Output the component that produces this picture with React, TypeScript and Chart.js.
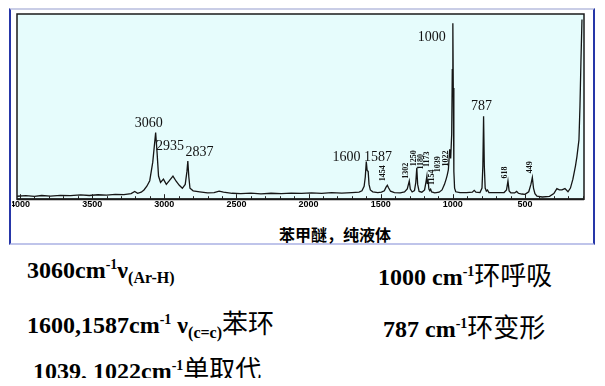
import React, { useEffect, useRef } from "react";
import { Chart, registerables } from "chart.js";

Chart.register(...registerables);

// Raman shift (cm-1)
const wavenumbers = [
  4020, 3960, 3900, 3850, 3790, 3720, 3650, 3580, 3520, 3460, 3400, 3340, 3280, 3230, 3205, 3185, 3160,
  3141, 3121, 3101, 3080, 3060, 3050, 3040, 3026, 3006, 2986, 2965, 2940, 2918, 2896, 2875, 2855, 2843,
  2837, 2830, 2822, 2800, 2755, 2700, 2655, 2620, 2590, 2530, 2470, 2400, 2330, 2260, 2190, 2120, 2050,
  1980, 1910, 1840, 1770, 1700, 1650, 1630, 1615, 1607, 1600, 1594, 1587, 1581, 1572, 1555, 1520, 1495,
  1475, 1463, 1454, 1446, 1432, 1405, 1365, 1335, 1316, 1302, 1295, 1282, 1266, 1257, 1250, 1244, 1234,
  1215, 1196, 1187, 1180, 1177, 1173, 1166, 1160, 1154, 1147, 1125, 1095, 1075, 1058, 1046, 1039, 1031,
  1022, 1015, 1008, 1004, 1000, 997, 993, 988, 980, 950, 905, 865, 852, 840, 812, 798, 792, 787, 782,
  776, 768, 760, 750, 700, 645, 628, 618, 610, 598, 572, 558, 546, 522, 500, 474, 459, 449, 441, 431,
  417, 380, 330, 300, 279, 262, 244, 223, 202, 185, 168, 150, 140, 126, 119, 112, 105,
];
// Relative intensity (0-100)
const intensities = [
  1.6, 1.9, 1.5, 2.0, 1.7, 2.1, 1.9, 2.3, 2.0, 2.4, 2.2, 2.6, 2.5, 3.0, 4.2, 3.2, 3.8,
  5.0, 7.0, 10.0, 20.0, 36.0, 25.0, 12.5, 9.0, 10.8, 8.0, 10.0, 12.5, 9.7, 7.5, 5.9, 8.0, 15.0,
  20.6, 12.0, 5.9, 4.5, 4.0, 3.4, 3.6, 4.3, 3.8, 3.2, 3.0, 3.3, 2.9, 3.2, 3.0, 3.3, 3.1,
  3.4, 3.1, 3.5, 3.3, 3.6, 3.8, 4.5, 7.0, 12.0, 20.3, 15.5, 15.0, 8.0, 5.0, 4.0, 3.6, 3.8,
  4.5, 6.5, 7.5, 6.2, 4.3, 3.6, 3.4, 3.9, 5.5, 9.8, 5.5, 3.9, 4.6, 9.0, 17.0, 8.0, 4.2,
  3.8, 5.0, 9.0, 12.5, 8.5, 10.8, 5.5, 4.6, 5.4, 3.9, 3.4, 3.8, 5.0, 8.0, 11.0, 13.0, 16.0,
  27.0, 22.0, 35.0, 70.0, 95.0, 60.0, 15.0, 6.0, 4.0, 3.5, 3.6, 3.8, 4.8, 3.8, 3.6, 6.0, 18.0, 44.8, 18.0,
  6.0, 4.4, 5.0, 3.6, 3.5, 3.6, 5.0, 9.8, 4.5, 3.4, 3.4, 4.2, 3.2, 2.8, 2.6, 4.0, 8.0, 11.8, 6.0, 3.0,
  1.6, 1.2, 1.5, 3.0, 5.7, 5.0, 5.0, 5.7, 4.0, 6.0, 10.8, 18.0, 23.0, 32.0, 50.0, 75.0, 97.0,
];

// axis
const xMin = 91;
const xMax = 4021;
const tickLabels = [4000, 3500, 3000, 2500, 2000, 1500, 1000, 500];
const minorTicks = Array.from({ length: 40 }, (_, i) => 100 + i * 100);

// peak annotations
const bigLabels = ["3060", "2935", "2837", "1600", "1587", "1000", "787"];
const bigLabelWn = [3060, 2940, 2837, 1600, 1587, 1000, 787];
const smallLabels = ["1454", "1302", "1250", "1180", "1173", "1154", "1039", "1022", "618", "449"];
const smallLabelWn = [1454, 1302, 1250, 1180, 1173, 1154, 1039, 1022, 618, 449];

const chartTitle = "苯甲醚，纯液体";

// pixel offsets of the annotation text from its peak (style only)
const bigOffsets: [number, number][] = [
  [-7, -6], [-3, -26], [11.7, -5], [-19.8, -0.5], [9.8, -10.4], [-21.2, 17.7], [-2, -6.7],
];
const smallOffsets: [number, number][] = [
  [-4, -12], [-3.3, -10.3], [-2.5, -9.4], [-6.2, -14.3], [-0.6, -20], [1.7, -12], [-8.9, -10.8], [-4, 9.2], [-3, -8.5], [-2.4, -10],
];

function intensityAt(wn: number) {
  let best = 0;
  for (let i = 0; i < wavenumbers.length; i++) {
    if (Math.abs(wavenumbers[i] - wn) < Math.abs(wavenumbers[best] - wn)) best = i;
  }
  return intensities[best];
}

const framePlugin = {
  id: "frame",
  beforeDraw(chart: any) {
    const { ctx, chartArea: a } = chart;
    ctx.save();
    ctx.fillStyle = "#e6fcfc";
    ctx.fillRect(a.left, a.top, a.right - a.left, a.bottom - a.top);
    ctx.restore();
  },
  afterDraw(chart: any) {
    const { ctx, chartArea: a } = chart;
    const xs = chart.scales.x;
    const ys = chart.scales.y;
    ctx.save();
    // frame
    ctx.strokeStyle = "#1a1a1a";
    ctx.lineWidth = 1.5;
    ctx.strokeRect(a.left, a.top, a.right - a.left, a.bottom - a.top);
    ctx.lineWidth = 2;
    ctx.beginPath();
    ctx.moveTo(a.left, a.bottom);
    ctx.lineTo(a.right, a.bottom);
    ctx.stroke();
    // inner tick marks
    ctx.lineWidth = 1;
    ctx.strokeStyle = "#222";
    minorTicks.forEach((v) => {
      const x = Math.round(xs.getPixelForValue(v)) + 0.5;
      const len = v % 500 === 0 ? 5 : 3;
      ctx.beginPath();
      ctx.moveTo(x, a.bottom);
      ctx.lineTo(x, a.bottom - len);
      ctx.stroke();
    });
    // big labels
    ctx.fillStyle = "#111";
    ctx.font = '14px "Liberation Serif", "Times New Roman", serif';
    ctx.textAlign = "center";
    ctx.textBaseline = "alphabetic";
    bigLabels.forEach((t, i) => {
      const x = xs.getPixelForValue(bigLabelWn[i]) + bigOffsets[i][0];
      const y = ys.getPixelForValue(intensityAt(bigLabelWn[i])) + bigOffsets[i][1];
      ctx.fillText(t, x, y);
    });
    // rotated small labels
    ctx.font = 'bold 8px "Liberation Serif", "Times New Roman", serif';
    ctx.textBaseline = "middle";
    smallLabels.forEach((t, i) => {
      const x = xs.getPixelForValue(smallLabelWn[i]) + smallOffsets[i][0];
      const y = ys.getPixelForValue(intensityAt(smallLabelWn[i])) + smallOffsets[i][1];
      ctx.save();
      ctx.translate(x, y);
      ctx.rotate(-Math.PI / 2);
      ctx.fillText(t, 0, 0);
      ctx.restore();
    });
    ctx.restore();
  },
};

const serif = '"Liberation Serif", "Times New Roman", serif';
const cjk = '"Noto Sans CJK SC", sans-serif';
const sup: React.CSSProperties = { fontSize: 14, position: "relative", top: -9 };
const sub: React.CSSProperties = { fontSize: 16, position: "relative", top: 5 };
const han: React.CSSProperties = { fontFamily: cjk, fontWeight: 400, fontSize: 26 };
const lineStyle = (left: number, top: number): React.CSSProperties => ({
  position: "absolute",
  left,
  top,
  fontFamily: serif,
  fontWeight: 700,
  fontSize: 24,
  lineHeight: "24px",
  whiteSpace: "nowrap",
  color: "#000",
});

export default function App() {
  const ref = useRef<HTMLCanvasElement>(null);
  useEffect(() => {
    const canvas = ref.current!;
    const chart = new Chart(canvas, {
      type: "line",
      data: {
        datasets: [
          {
            data: wavenumbers.map((w, i) => ({ x: w, y: intensities[i] })),
            borderColor: "#151515",
            borderWidth: 1.3,
            pointRadius: 0,
            tension: 0,
            fill: false,
          },
        ],
      },
      options: {
        responsive: false,
        animation: false,
        devicePixelRatio: 1,
        layout: { padding: { left: 5, right: 6, top: 4, bottom: 0 } },
        plugins: { legend: { display: false }, tooltip: { enabled: false }, title: { display: false } },
        scales: {
          x: {
            type: "linear",
            reverse: true,
            min: xMin,
            max: xMax,
            afterBuildTicks: (s: any) => {
              s.ticks = minorTicks.map((v) => ({ value: v }));
            },
            ticks: {
              autoSkip: false,
              maxRotation: 0,
              padding: 0,
              color: "#000",
              font: { size: 9, weight: "bold", family: '"Liberation Sans", Arial, sans-serif' },
              callback: (v: any) => (tickLabels.includes(Number(v)) ? String(v) : ""),
            },
            grid: { display: false, drawTicks: false },
            border: { display: false },
          },
          y: { display: false, min: 0, max: 100 },
        },
      },
      plugins: [framePlugin],
    } as any);
    return () => chart.destroy();
  }, []);

  return (
    <div style={{ position: "relative", width: 589, height: 370 }}>
      <div
        style={{
          position: "absolute",
          left: 1,
          top: 0,
          width: 586,
          height: 237,
          boxSizing: "border-box",
          borderLeft: "2px solid #2636a8",
          borderRight: "2px solid #2636a8",
          borderTop: "2px solid #c9cde6",
          borderBottom: "2px solid #bfc4ea",
          background: "#fff",
        }}
      />
      <canvas ref={ref} width={578} height={200} style={{ position: "absolute", left: 4, top: 2 }} />
      <div
        style={{
          position: "absolute",
          left: 227,
          top: 218,
          width: 200,
          textAlign: "center",
          fontFamily: cjk,
          fontWeight: 700,
          fontSize: 16,
          lineHeight: "16px",
          color: "#000",
        }}
      >
        {chartTitle}
      </div>

      <div style={lineStyle(19, 250)}>
        3060cm<span style={sup}>-1</span>ν<span style={sub}>(Ar-H)</span>
      </div>
      <div style={lineStyle(19, 302)}>
        1600,1587cm<span style={sup}>-1</span> ν<span style={sub}>(c=c)</span>
        <span style={han}>苯环</span>
      </div>
      <div style={lineStyle(25, 348)}>
        1039, 1022cm<span style={sup}>-1</span>
        <span style={han}>单取代</span>
      </div>
      <div style={lineStyle(370, 254)}>
        1000 cm<span style={sup}>-1</span>
        <span style={han}>环呼吸</span>
      </div>
      <div style={lineStyle(375, 306)}>
        787 cm<span style={sup}>-1</span>
        <span style={han}>环变形</span>
      </div>
    </div>
  );
}
